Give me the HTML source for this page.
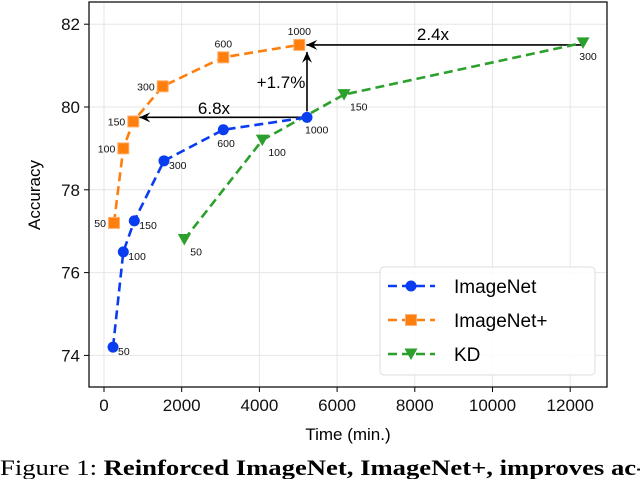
<!DOCTYPE html>
<html><head><meta charset="utf-8"><style>
body{margin:0;background:#fff;width:640px;height:479px;overflow:hidden}
svg{display:block;font-family:"Liberation Sans","DejaVu Sans",sans-serif}
</style></head><body>
<svg id="chart" width="640" height="479"></svg>
<script>
const categoriesIN = ["50","100","150","300","600","1000"];
const timeIN = [232, 497, 780, 1544, 3071, 5225];
const accIN = [74.2, 76.5, 77.25, 78.7, 79.45, 79.75];
const categoriesINP = ["50","100","150","300","600","1000"];
const timeINP = [257, 497, 754, 1511, 3071, 5027];
const accINP = [77.2, 79.0, 79.65, 80.5, 81.2, 81.5];
const categoriesKD = ["50","100","150","300"];
const timeKD = [2067, 4075, 6178, 12330];
const accKD = [76.8, 79.2, 80.3, 81.55];
const xTicks = [0,2000,4000,6000,8000,10000,12000];
const yTicks = [74,76,78,80,82];

const L=89,R=607,T=2,B=387;
const X=t=>104+t*0.03885;
const Y=v=>107-(v-80)*41.4;
const svg=document.getElementById('chart');
const NS='http://www.w3.org/2000/svg';
function mk(tag,attrs,parent){const e=document.createElementNS(NS,tag);for(const k in attrs)e.setAttribute(k,attrs[k]);(parent||svg).appendChild(e);return e;}
function txt(s,attrs){const e=mk('text',attrs);e.textContent=s;return e;}

const defs=mk('defs',{});
const mar=mk('marker',{id:'ah',markerWidth:'12',markerHeight:'10',refX:'11',refY:'5',orient:'auto',markerUnits:'userSpaceOnUse'},defs);
mk('path',{d:'M0,0 L11,5 L0,10 L4,5 Z',fill:'#000'},mar);

xTicks.forEach(t=>{const g=mk('line',{x1:X(t),x2:X(t),y1:T,y2:B,stroke:'#e6e6e6','stroke-width':1});

const tk=mk('line',{x1:X(t),x2:X(t),y1:B,y2:B+5,stroke:'#000'});

const l=txt(String(t),{x:X(t),y:B+24,'text-anchor':'middle','font-size':'17',fill:'#111'});
});
yTicks.forEach(v=>{const g=mk('line',{x1:L,x2:R,y1:Y(v),y2:Y(v),stroke:'#e6e6e6','stroke-width':1});

const tk=mk('line',{x1:L-5,x2:L,y1:Y(v),y2:Y(v),stroke:'#000'});

const l=txt(String(v),{x:L-9,y:Y(v)+6,'text-anchor':'end','font-size':'17',fill:'#111'});
});

const frame=mk('rect',{x:L,y:T,width:R-L,height:B-T,fill:'none',stroke:'#111','stroke-width':1.3});


function arrow(x1,y1,x2,y2,name){const a=mk('line',{x1,y1,x2,y2,stroke:'#000','stroke-width':1.6,'marker-end':'url(#ah)'});}
arrow(X(timeIN[5]),Y(accIN[5]),X(timeINP[2])+6,Y(accIN[5]),'arrow-6.8x');
arrow(X(timeIN[5]),Y(accIN[5])-6,X(timeIN[5]),Y(accINP[5])+7,'arrow-plus-1.7');
arrow(X(timeKD[3]),Y(accINP[5]),X(timeINP[5])+7,Y(accINP[5]),'arrow-2.4x');
let a1=txt('6.8x',{x:214,y:114,'text-anchor':'middle','font-size':'17'});
let a2=txt('+1.7%',{x:281,y:88,'text-anchor':'middle','font-size':'17'});
let a3=txt('2.4x',{x:433,y:40,'text-anchor':'middle','font-size':'17'});

function marker(type,x,y,c,parent){
 if(type==='o')return mk('circle',{cx:x,cy:y,r:5.5,fill:c},parent);
 if(type==='s')return mk('rect',{x:x-5.5,y:y-5.5,width:11,height:11,fill:c,stroke:'#ffb070','stroke-width':1},parent);
 return mk('path',{d:`M${x-6.5},${y-5.5} L${x+6.5},${y-5.5} L${x},${y+6} Z`,fill:c},parent);
}
function series(times,accs,cats,color,type,name,labelPos){
 const pts=times.map((t,i)=>X(t)+','+Y(accs[i])).join(' ');
 const pl=mk('polyline',{points:pts,fill:'none',stroke:color,'stroke-width':2.6,'stroke-dasharray':'9,5'});
 
 times.forEach((t,i)=>{const m=marker(type,X(t),Y(accs[i]),color);
  
  const p=labelPos(i);const l=txt(cats[i],{x:X(t)+p[0],y:Y(accs[i])+p[1],'font-size':'10.5','text-anchor':p[2],fill:'#111'});
  });
}
series(timeINP,accINP,categoriesINP,'#ff7f0e','s','imagenet-plus',i=>i>=4?[0,-10,'middle']:[-8,4,'end']);
series(timeKD,accKD,categoriesKD,'#2ca02c','v','kd',i=>i===3?[5,17,'middle']:[6,16,'start']);
series(timeIN,accIN,categoriesIN,'#0a3cf0','o','imagenet',i=>i>=4?[i===5?-2:-6,i===5?16:17,'start']:[5,8,'start']);

const lg=mk('g',{});
mk('rect',{x:380,y:267,width:215,height:108,rx:4,fill:'#fff','fill-opacity':0.85,stroke:'#ddd'},lg);
[['ImageNet','#0a3cf0','o'],['ImageNet+','#ff7f0e','s'],['KD','#2ca02c','v']].forEach((e,i)=>{
 const y=286+i*34;const g=mk('g',{},lg);
 
 mk('line',{x1:388,x2:435,y1:y,y2:y,stroke:e[1],'stroke-width':2.6,'stroke-dasharray':'9,5'},g);
 marker(e[2],411,y,e[1],g);
 const t=document.createElementNS(NS,'text');t.setAttribute('x',454);t.setAttribute('y',y+7);t.setAttribute('font-size','19');t.textContent=e[0];g.appendChild(t);
});

let xt=txt('Time (min.)',{x:348,y:440,'text-anchor':'middle','font-size':'17'});
let yt=txt('Accuracy',{x:0,y:0,'text-anchor':'middle','font-size':'17',transform:'translate(40,195) rotate(-90)'});
const cap=mk('text',{x:0,y:475,'font-size':'22','font-family':'"Liberation Serif",serif',textLength:'645',lengthAdjust:'spacingAndGlyphs'});

cap.innerHTML='Figure 1: <tspan font-weight="bold">Reinforced ImageNet, ImageNet+, improves ac-</tspan>';
</script>
</body></html>
